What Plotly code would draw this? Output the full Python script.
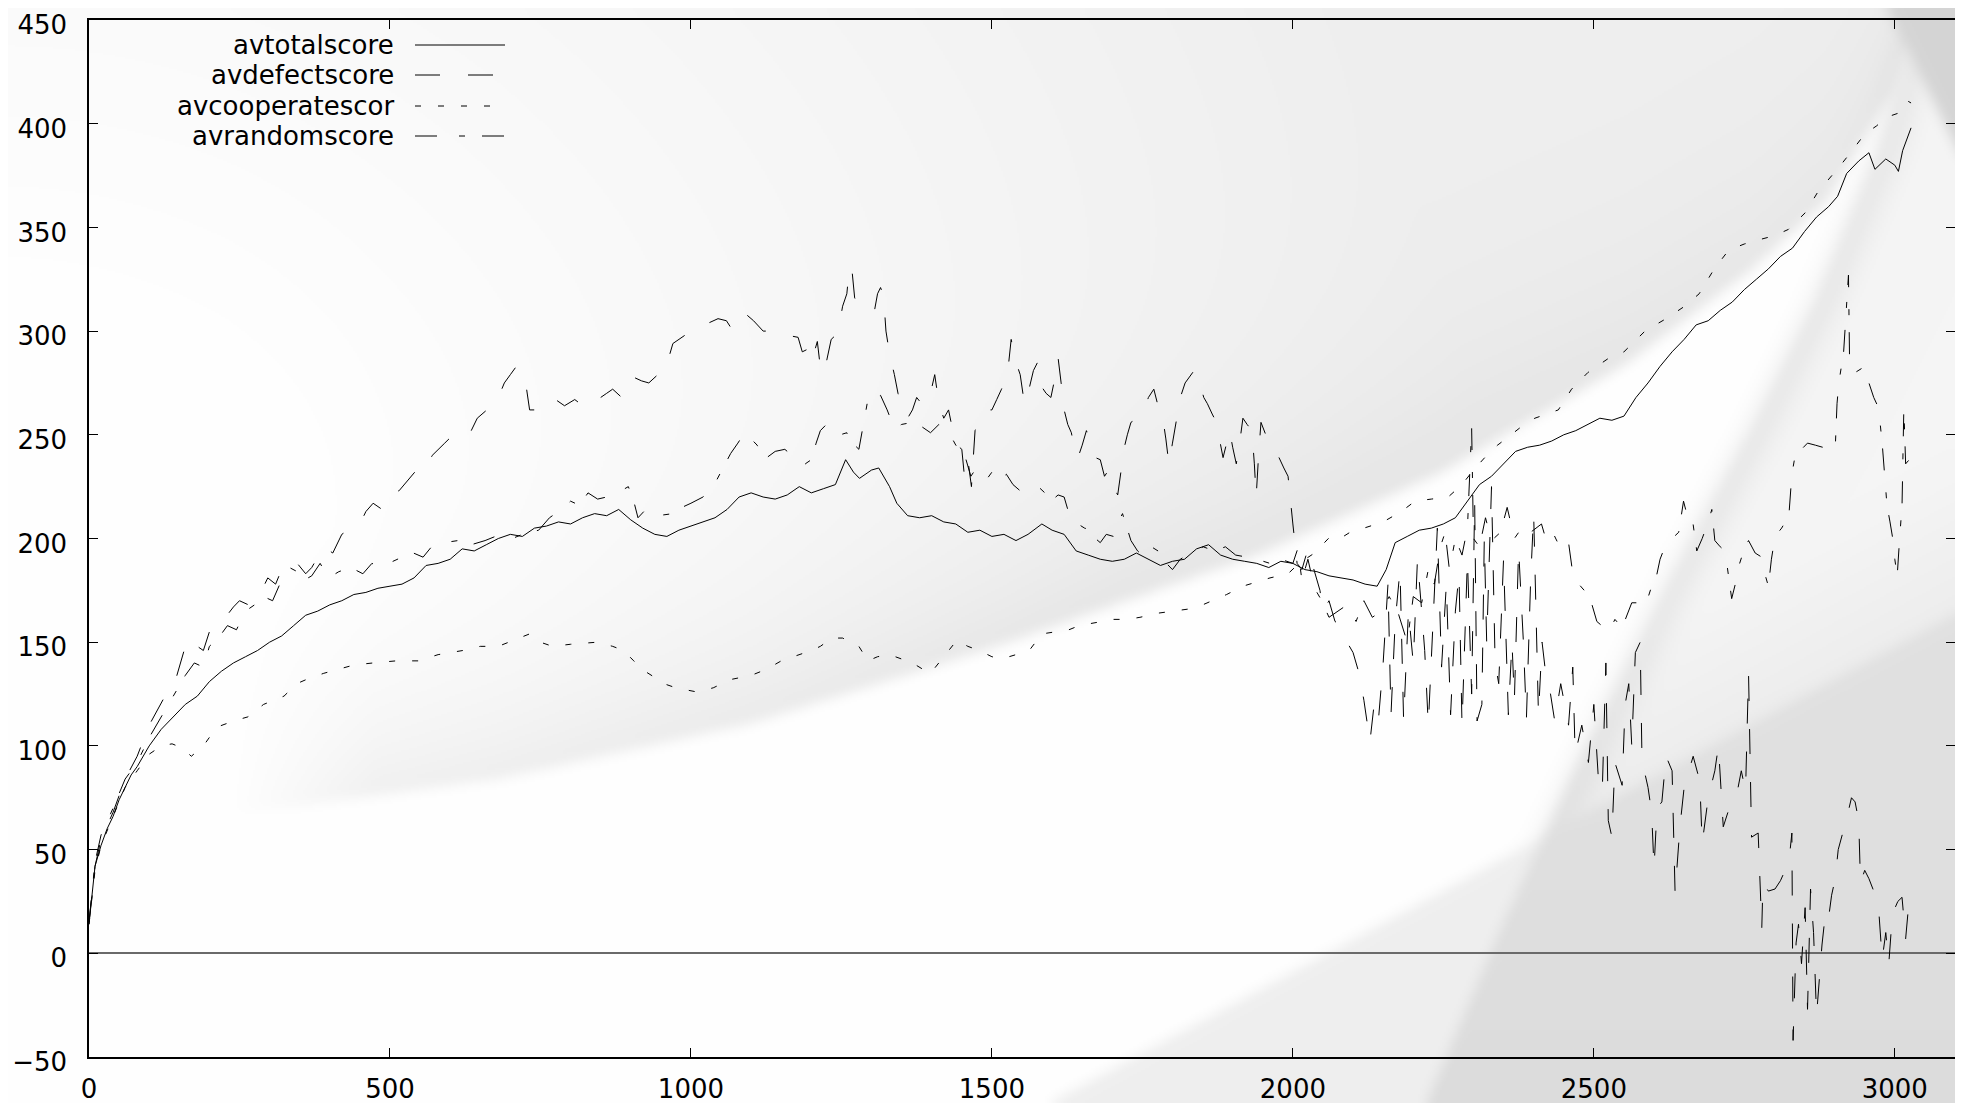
import numpy as np, zlib, struct, base64
import plotly.graph_objects as go

# ---------------- data ----------------
total = [(0,14),(5,30),(10,42),(20,52),(30,60),(40,66),(50,74),(60,80),(70,86),(80,90),(90,95),(100,100),
 (120,108),(140,114),(160,120),(180,124),(200,131),(220,136),(240,140),(260,143),(280,146),(300,150),
 (320,153),(340,158),(360,163),(380,165),(400,168),(420,170),(440,173),(460,174),(480,176),(500,177),
 (520,178),(540,181),(560,187),(580,188),(600,190),(620,195),(640,194),(660,197),(680,200),(700,202),
 (720,201),(740,205),(760,206),(780,208),(800,207),(820,210),(840,212),(860,211),(880,214),(900,209),
 (920,205),(940,202),(960,201),(980,204),(1000,206),(1020,208),(1040,210),(1060,214),(1080,220),(1100,222),
 (1120,220),(1140,219),(1160,221),(1180,225),(1200,222),(1220,224),(1240,226),(1257,238),(1270,232),
 (1280,229),(1300,233),(1312,234),(1330,225),(1342,217),(1360,211),(1380,210),(1400,211),(1420,208),
 (1440,207),(1460,203),(1480,204),(1500,201),(1520,202),(1540,199),(1560,202),(1583,207),(1600,204),
 (1620,202),(1640,194),(1660,192),(1680,190),(1700,189),(1720,190),(1740,193),(1760,190),(1780,187),
 (1800,189),(1820,190),(1840,195),(1860,197),(1880,192),(1900,190),(1920,189),(1940,188),(1960,186),
 (1980,189),(2000,188),(2020,185),(2040,184),(2060,182),(2080,181),(2100,180),(2120,178),(2140,177),
 (2155,185),(2170,198),(2190,201),(2210,204),(2230,205),(2250,207),(2270,210),(2290,218),(2310,226),
 (2330,230),(2350,236),(2370,242),(2390,244),(2410,245),(2430,247),(2450,250),(2470,252),(2490,255),
 (2510,258),(2530,257),(2550,259),(2570,268),(2590,275),(2610,283),(2630,290),(2650,296),(2670,303),
 (2690,305),(2710,310),(2730,314),(2750,320),(2770,325),(2790,330),(2810,336),(2830,340),(2850,348),
 (2870,355),(2890,360),(2905,365),(2920,376),(2940,382),(2957,386),(2967,378),(2985,383),(3000,380),
 (3006,377),(3013,387),(3027,398)]

defect = [(0,15),(10,42),(20,55),(40,68),(60,84),(80,95),(100,110),(115,118),(130,126),(142,130),(160,148),
 (168,152),(175,149),(190,146),(200,155),(212,157),(224,161),(240,167),(250,170),(265,168),(287,175),
 (297,181),(310,178),(320,185),(335,189),(346,188),(360,183),(370,186),(390,196),(405,193),(420,202),
 (435,205),(450,207),(460,213),(472,217),(487,214),(502,222),(515,223),(530,228),(547,234),(560,233),
 (570,240),(591,246),(605,250),(621,254),(635,252),(645,258),(665,263),(680,268),(690,275),(700,279),
 (710,283),(718,278),(725,276),(732,262),(740,262),(755,266),(770,268),(790,264),(807,267),(825,263),
 (844,267),(860,270),(870,272),(885,268),(903,278),(918,276),(930,275),(945,279),(955,280),(962,286),
 (970,294),(985,297),(1000,300),(1015,302),(1030,304),(1045,306),(1059,305),(1070,300),(1080,303),
 (1092,308),(1104,305),(1120,300),(1141,300),(1160,298),(1178,297),(1185,290),(1192,291),(1200,285),
 (1210,295),(1216,280),(1222,281),(1233,296),(1244,299),(1252,312),(1259,318),(1263,330),(1267,331),
 (1272,316),(1279,312),(1292,313),(1305,310),(1310,318),(1315,321),(1320,317),(1324,300),(1330,289),
 (1338,279),(1344,270),(1349,265),(1360,258),(1368,262),(1375,268),(1386,264),(1398,270),(1405,279),
 (1412,265),(1420,258),(1428,262),(1435,252),(1442,245),(1450,243),(1455,228),(1461,236),(1466,225),
 (1472,252),(1480,258),(1487,262),(1500,262),(1508,267),(1516,272),(1524,278),(1528,285),(1532,296),
 (1540,285),(1547,279),(1551,270),(1554,265),(1560,270),(1569,281),(1576,285),(1583,273),(1590,270),
 (1598,268),(1603,275),(1610,287),(1615,275),(1620,262),(1626,255),(1632,251),(1638,242),(1643,239),
 (1650,245),(1657,252),(1664,247),(1672,239),(1680,238),(1687,230),(1694,233),(1700,226),(1709,221),
 (1715,235),(1720,244),(1725,250),(1731,256),(1742,258),(1754,263),(1760,268),(1769,272),(1776,264),
 (1784,258),(1789,248),(1794,236),(1800,246),(1806,256),(1813,268),(1821,275),(1828,278),(1836,281),
 (1842,276),(1847,273),(1852,268),(1858,265),(1866,260),(1873,256),(1878,248),(1884,239),(1890,246),
 (1895,252),(1900,244),(1906,236),(1912,247),(1917,258),(1924,255),(1932,252),(1936,236),(1939,220),
 (1943,240),(1947,256),(1955,250),(1962,244),(1970,241),(1977,239),(1985,234),(1992,230),(2000,207),
 (2007,188),(2015,185),(2025,195),(2036,184),(2045,175),(2050,165),(2060,170),(2070,160),(2080,158),
 (2090,150),(2100,145),(2110,135),(2118,122),(2128,102),(2135,120),(2142,112),(2150,140),(2158,178),
 (2163,115),(2170,160),(2178,185),(2184,112),(2192,165),(2200,140),(2207,190),(2214,165),(2219,146),
 (2225,110),(2232,152),(2240,205),(2247,138),(2255,178),(2262,115),(2270,165),(2276,183),(2281,110),
 (2290,190),(2297,125),(2302,218),(2306,112),(2314,120),(2318,200),(2322,150),(2330,225),(2336,140),
 (2342,130),(2350,190),(2358,115),(2364,150),(2368,122),(2375,195),(2383,150),(2388,113),(2395,180),
 (2400,212),(2408,115),(2414,150),(2420,135),(2428,125),(2435,112),(2445,130),(2458,110),(2465,138),
 (2469,96),(2480,110),(2491,92),(2500,120),(2508,82),(2514,78),(2520,140),(2524,64),(2530,56),(2535,92),
 (2547,81),(2552,120),(2558,130),(2563,100),(2569,145),(2577,150),(2580,93),(2590,80),(2596,68),
 (2600,41),(2605,70),(2613,73),(2620,95),(2630,88),(2635,29),(2643,61),(2650,80),(2658,88),(2665,95),
 (2676,83),(2680,53),(2690,75),(2701,88),(2707,100),(2715,61),(2725,70),(2735,73),(2745,88),(2752,78),
 (2757,135),(2762,56),(2773,58),(2779,12),(2781,34),(2790,30),(2801,31),(2810,35),(2824,44),(2829,58),
 (2831,-42),(2836,5),(2840,14),(2845,-5),(2851,22),(2855,-27),(2860,31),(2865,10),(2870,-30),(2879,4),
 (2885,20),(2890,17),(2895,28),(2901,36),(2906,50),(2912,56),(2920,65),(2928,75),(2934,73),(2940,64),
 (2943,34),(2950,40),(2957,36),(2965,30),(2973,22),(2979,-3),(2985,10),(2990,-5),(2996,19),(3005,25),
 (3012,27),(3018,7),(3022,20),(3027,24)]

cooperate = [(0,14),(10,40),(20,52),(40,66),(60,80),(80,88),(100,96),(120,100),(138,101),(155,99),(170,95),
 (190,100),(212,109),(240,112),(264,114),(290,120),(324,124),(345,130),(361,132),(390,135),(413,137),
 (440,139),(472,140),(510,141),(547,141),(580,144),(621,146),(650,148),(680,148),(705,151),(732,154),
 (750,150),(770,148),(800,149),(844,150),(870,148),(888,146),(905,141),(918,137),(940,133),(955,130),
 (975,128),(992,127),(1010,126),(1037,128),(1066,132),(1100,134),(1126,137),(1150,141),(1170,143),
 (1200,146),(1215,148),(1234,152),(1252,152),(1265,150),(1279,148),(1294,141),(1310,143),(1330,144),
 (1350,142),(1368,140),(1385,137),(1398,135),(1420,143),(1442,151),(1460,148),(1479,146),(1500,143),
 (1517,142),(1540,144),(1562,146),(1583,154),(1605,155),(1628,156),(1645,158),(1665,159),(1685,160),
 (1702,161),(1725,161),(1746,162),(1776,164),(1800,165),(1827,166),(1850,168),(1866,170),(1890,173),
 (1917,177),(1940,179),(1962,181),(1992,183),(2010,188),(2036,193),(2059,200),(2073,199),(2095,203),
 (2118,205),(2150,208),(2180,213),(2203,218),(2230,219),(2258,220),(2281,226),(2300,233),(2325,241),
 (2340,245),(2358,249),(2380,254),(2402,258),(2420,260),(2441,262),(2463,272),(2490,280),(2510,284),
 (2525,287),(2550,290),(2585,300),(2620,306),(2651,312),(2675,318),(2700,330),(2724,339),(2750,342),
 (2774,344),(2800,346),(2823,349),(2851,357),(2872,367),(2893,374),(2910,380),(2929,387),(2950,395),
 (2970,399),(2985,403),(3005,405),(3021,411),(3027,410)]

random_ = [(0,15),(10,44),(20,57),(40,70),(60,84),(80,92),(100,104),(120,114),(140,124),(160,134),(175,140),
 (190,138),(200,148),(215,152),(230,158),(245,156),(260,165),(275,168),(290,172),(305,170),(320,180),
 (333,186),(346,184),(358,180),(370,182),(384,188),(398,181),(415,184),(435,186),(455,183),(470,188),
 (487,186),(505,189),(520,191),(539,193),(555,191),(569,196),(590,198),(613,199),(635,197),(658,199),
 (675,201),(695,199),(720,202),(747,204),(765,210),(785,214),(800,218),(815,216),(829,222),(845,219),
 (860,220),(878,222),(896,225),(905,218),(912,210),(925,214),(945,211),(970,212),(985,215),(1000,217),
 (1020,220),(1037,225),(1050,232),(1060,238),(1066,241),(1078,246),(1089,251),(1100,248),(1110,245),
 (1118,240),(1126,239),(1140,242),(1156,243),(1168,240),(1178,239),(1190,236),(1200,238),(1208,246),
 (1215,252),(1225,255),(1237,254),(1248,250),(1259,251),(1264,246),(1272,245),(1279,243),(1286,255),
 (1294,267),(1305,268),(1315,269),(1326,262),(1338,253),(1350,255),(1368,256),(1383,254),(1398,251),
 (1412,255),(1427,252),(1440,245),(1450,242),(1457,238),(1465,230),(1472,233),(1479,231),(1490,228),
 (1500,232),(1508,230),(1516,229),(1524,231),(1535,226),(1547,223),(1560,224),(1577,225),(1588,222),
 (1598,218),(1610,221),(1620,220),(1628,212),(1636,210),(1643,207),(1654,205),(1665,204),(1672,200),
 (1680,198),(1690,202),(1702,201),(1710,208),(1717,212),(1724,205),(1731,199),(1742,194),(1754,191),
 (1765,196),(1776,194),(1790,188),(1800,185),(1813,190),(1830,193),(1851,196),(1870,194),(1888,196),
 (1905,192),(1924,191),(1940,190),(1962,188),(1980,190),(2000,188),(2008,195),(2015,180),(2025,190),
 (2036,176),(2048,170),(2060,162),(2075,165),(2090,168),(2105,160),(2118,170),(2132,162),(2147,165),
 (2160,172),(2175,164),(2190,150),(2200,172),(2214,169),(2225,185),(2235,178),(2245,196),(2253,203),
 (2260,185),(2270,200),(2281,192),(2290,205),(2297,253),(2300,200),(2310,196),(2320,210),(2330,199),
 (2345,203),(2356,215),(2368,200),(2380,205),(2395,203),(2413,207),(2420,200),(2430,204),(2440,198),
 (2450,196),(2458,198),(2466,181),(2475,178),(2484,175),(2495,170),(2505,160),(2513,158),(2525,155),
 (2535,161),(2547,157),(2563,169),(2575,169),(2585,167),(2595,176),(2602,179),(2610,190),(2618,196),
 (2630,200),(2641,203),(2649,218),(2656,210),(2663,211),(2671,194),(2680,200),(2690,208),(2696,214),
 (2701,199),(2710,196),(2718,194),(2724,180),(2729,171),(2735,178),(2740,186),(2750,195),(2757,199),
 (2768,193),(2779,191),(2785,182),(2790,177),(2795,190),(2801,201),(2812,205),(2824,211),(2829,231),
 (2835,241),(2845,243),(2855,246),(2868,245),(2880,244),(2890,242),(2901,243),(2904,265),(2907,275),
 (2915,290),(2920,310),(2923,327),(2925,283),(2934,280),(2945,282),(2957,275),(2965,268),(2973,263),
 (2979,246),(2983,230),(2987,216),(2992,208),(2996,201),(3000,190),(3004,182),(3008,200),(3012,216),
 (3015,263),(3018,236),(3024,238),(3029,238)]

series_names = ["avtotalscore", "avdefectscore", "avcooperatescor", "avrandomscore"]
x_ticks = [0, 500, 1000, 1500, 2000, 2500, 3000]
y_ticks = [-50, 0, 50, 100, 150, 200, 250, 300, 350, 400, 450]

# ---------------- page geometry ----------------
# the page body has an 8px margin, so the figure starts at (8, 8)
OFF = 8
W, H = 1963, 1103
FW, FH = W - OFF, H - OFF
ML, MT = 89, 20            # absolute page position of the plot area's top-left
PW, PH = 1866, 1037
fig_l, fig_t = ML - OFF, MT - OFF
fig_r = FW - fig_l - PW
fig_b = FH - fig_t - PH

# ---------------- decorative background (procedural) ----------------
def make_bg():
    W2, H2 = 978, 548
    s = 1963 / 1568
    xs = np.linspace(OFF / s, 1568, W2)[None, :]
    ys = np.linspace(OFF / s, 881, H2)[:, None]
    d = np.sqrt(xs ** 2 + (ys - 560) ** 2)
    t = np.clip((d - 300) / 900, 0, 1)
    v = 255 - 16 * t
    c1x = [0, 180, 400, 600, 800, 1000, 1150, 1300, 1400, 1460, 1510, 1535, 1600]
    c1y = [652, 652, 622, 578, 515, 445, 378, 290, 215, 160, 75, 0, -100]
    C1 = np.interp(xs[0], c1x, c1y)[None, :]
    dist = C1 - ys
    ramp = np.clip((xs - 180) / 120, 0, 1) * (1 - 0.5 * np.clip((xs - 900) / 500, 0, 1))
    band = 15 * np.exp(-np.clip(dist, 0, None) / 90) * ramp
    v = np.where(dist > 0, v - band, 255.0)
    v = np.maximum(v, 231)
    L1 = 881 - (xs - 840) * 0.54
    below = ys > L1
    c2y = [0, 120, 240, 340, 470, 610, 740, 881]
    c2x = [1535, 1500, 1450, 1400, 1330, 1260, 1200, 1140]
    C2 = np.interp(ys[:, 0], c2y, c2x)[:, None]
    right = xs > C2
    v = np.where(below & ~right, 239, v)
    v = np.where(below & right, 225 - 5 * np.clip((ys - 600) / 281, 0, 1), v)
    reg = right & ~below
    v = np.where(reg, 245 - 8 * np.clip((ys - (L1 - 120)) / 120, 0, 1), v)
    v = v - np.where(~below, 12 * np.exp(-((xs - C2 - 8) / 16) ** 2), 0)
    wedge = (xs > 1505 + ys * 0.5) & (ys < 130)
    v = np.where(wedge, 213, v)
    k = np.ones(7) / 7
    for _ in range(2):
        v = np.apply_along_axis(lambda r: np.convolve(np.pad(r, 3, mode='edge'), k, 'valid'), 1, v)
        v = np.apply_along_axis(lambda c: np.convolve(np.pad(c, 3, mode='edge'), k, 'valid'), 0, v)
    a = np.clip(v, 0, 255).astype(np.uint8)
    h, w = a.shape
    raw = b''.join(b'\x00' + a[i].tobytes() for i in range(h))
    def chunk(tag, data):
        c = struct.pack('>I', len(data)) + tag + data
        return c + struct.pack('>I', zlib.crc32(tag + data) & 0xffffffff)
    png = b'\x89PNG\r\n\x1a\n' + chunk(b'IHDR', struct.pack('>IIBBBBB', w, h, 8, 0, 0, 0, 0)) \
        + chunk(b'IDAT', zlib.compress(raw, 9)) + chunk(b'IEND', b'')
    return 'data:image/png;base64,' + base64.b64encode(png).decode()

fig = go.Figure()

dashes = ["solid", "25px,28px", "6px,17px", "22px,22px,6px,17px"]
for name, data, dash in zip(series_names, [total, defect, cooperate, random_], dashes):
    fig.add_trace(go.Scatter(x=[p[0] for p in data], y=[p[1] for p in data], mode="lines",
                             name=name, line=dict(color="black", width=1, dash=dash),
                             showlegend=False))

# gnuplot-style key: text on the left, sample on the right (absolute page px)
key_rows_px = [45, 75, 106, 136]
shapes = []
annotations = []
for name, dash, ypx in zip(series_names, dashes, key_rows_px):
    yp = 1 - (ypx - MT) / PH
    annotations.append(dict(text=name, x=(396 - ML) / PW, y=yp, xref="paper", yref="paper",
                            xanchor="right", yanchor="middle", showarrow=False,
                            font=dict(family="DejaVu Sans", size=26, color="black")))
    shapes.append(dict(type="line", xref="paper", yref="paper", x0=(415 - ML) / PW, x1=(505 - ML) / PW,
                       y0=yp, y1=yp, line=dict(color="black", width=1, dash=dash)))

axis_font = dict(family="DejaVu Sans", size=26, color="black")
fig.update_layout(
    width=FW, height=FH,
    margin=dict(l=fig_l, r=fig_r, t=fig_t, b=fig_b, autoexpand=False),
    paper_bgcolor="white", plot_bgcolor="rgba(0,0,0,0)",
    shapes=shapes, annotations=annotations,
    images=[dict(source=make_bg(), xref="paper", yref="paper", x=-fig_l / PW, y=1 + fig_t / PH,
                 sizex=FW / PW, sizey=FH / PH, sizing="stretch", xanchor="left", yanchor="top",
                 layer="below")],
    xaxis=dict(range=[0, 3100], tickvals=x_ticks, ticks="inside", ticklen=9, tickwidth=1,
               tickcolor="black", showline=True, linecolor="black", linewidth=1.5, mirror="ticks",
               showgrid=False, zeroline=False, tickfont=axis_font, ticklabelstandoff=8,
               ticklabeloverflow="allow", automargin=False),
    yaxis=dict(range=[-50, 450], tickvals=y_ticks, ticks="inside", ticklen=9, tickwidth=1,
               tickcolor="black", showline=True, linecolor="black", linewidth=1.5, mirror="ticks",
               showgrid=False, zeroline=True, zerolinecolor="#6a6a6a", zerolinewidth=2,
               tickfont=axis_font, ticklabelstandoff=15, ticklabelshift=5,
               ticklabeloverflow="allow", automargin=False),
)

fig.write_html("out.html")
